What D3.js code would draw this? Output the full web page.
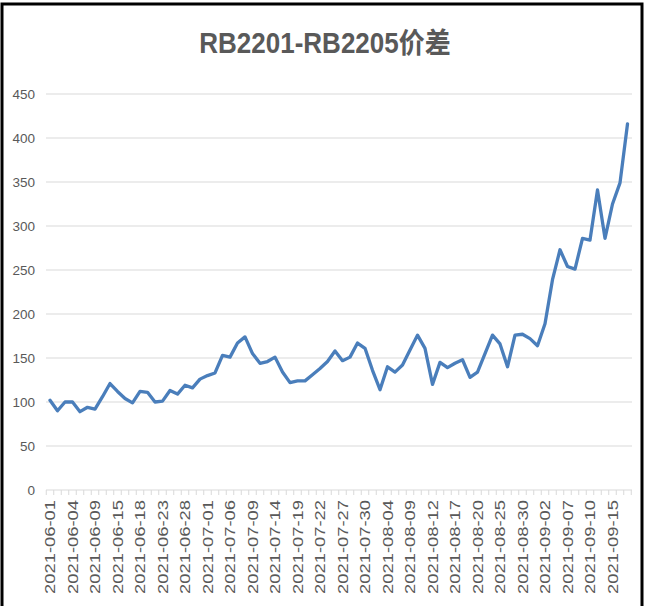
<!DOCTYPE html>
<html>
<head>
<meta charset="utf-8">
<script src="https://cdn.jsdelivr.net/npm/d3@7"></script>
<style>
  html, body { margin: 0; padding: 0; background: #fff; }
  svg { display: block; }
</style>
</head>
<body>
<svg id="chart" width="646" height="606"></svg>
<script>
// ---- data ----
const title = "RB2201-RB2205价差";
const dates = [
  "2021-06-01","2021-06-02","2021-06-03","2021-06-04","2021-06-07","2021-06-08","2021-06-09","2021-06-10","2021-06-11","2021-06-15",
  "2021-06-16","2021-06-17","2021-06-18","2021-06-21","2021-06-22","2021-06-23","2021-06-24","2021-06-25","2021-06-28","2021-06-29",
  "2021-06-30","2021-07-01","2021-07-02","2021-07-05","2021-07-06","2021-07-07","2021-07-08","2021-07-09","2021-07-12","2021-07-13",
  "2021-07-14","2021-07-15","2021-07-16","2021-07-19","2021-07-20","2021-07-21","2021-07-22","2021-07-23","2021-07-26","2021-07-27",
  "2021-07-28","2021-07-29","2021-07-30","2021-08-02","2021-08-03","2021-08-04","2021-08-05","2021-08-06","2021-08-09","2021-08-10",
  "2021-08-11","2021-08-12","2021-08-13","2021-08-16","2021-08-17","2021-08-18","2021-08-19","2021-08-20","2021-08-23","2021-08-24",
  "2021-08-25","2021-08-26","2021-08-27","2021-08-30","2021-08-31","2021-09-01","2021-09-02","2021-09-03","2021-09-06","2021-09-07",
  "2021-09-08","2021-09-09","2021-09-10","2021-09-13","2021-09-14","2021-09-15","2021-09-16","2021-09-17"
];
const spread = [
  102, 90, 100, 100, 89, 94, 92, 106, 121, 112,
  104, 99, 112, 111, 100, 101, 113, 109, 119, 116,
  126, 130, 133, 153, 151, 167, 174, 155, 144, 146,
  151, 134, 122, 124, 124, 131, 138, 146, 158, 147,
  151, 167, 161, 136, 114, 140, 134, 142, 159, 176,
  161, 120, 145, 139, 144, 148, 128, 134, 155, 176,
  166, 140, 176, 177, 172, 164, 189, 239, 273, 254,
  251, 286, 284, 341, 286, 325, 349, 416
];
const tickLabels = [
  "2021-06-01","2021-06-04","2021-06-09","2021-06-15","2021-06-18","2021-06-23","2021-06-28",
  "2021-07-01","2021-07-06","2021-07-09","2021-07-14","2021-07-19","2021-07-22","2021-07-27","2021-07-30",
  "2021-08-04","2021-08-09","2021-08-12","2021-08-17","2021-08-20","2021-08-25","2021-08-30",
  "2021-09-02","2021-09-07","2021-09-10","2021-09-15"
];
const yTicks = [0, 50, 100, 150, 200, 250, 300, 350, 400, 450];

// ---- drawing ----
const svg = d3.select("#chart");
const W = 646, H = 606;
svg.append("rect").attr("width", W).attr("height", H).attr("fill", "#fff");

const x = d3.scalePoint().domain(dates).range([46.25, 631.25]).padding(0.5);
const y = d3.scaleLinear().domain([0, 450]).range([490, 94]);
const step = x.step();

// gridlines
svg.append("g").selectAll("line").data(yTicks.filter(d => d > 0)).join("line")
  .attr("x1", 46).attr("x2", 632)
  .attr("y1", d => y(d)).attr("y2", d => y(d))
  .attr("stroke", "#d9d9d9").attr("stroke-width", 1);

// y axis labels
const yAxis = d3.axisLeft(y).tickValues(yTicks).tickSize(0).tickPadding(0);
const yg = svg.append("g").attr("transform", "translate(35,0)").call(yAxis);
yg.select(".domain").remove();
yg.selectAll("text")
  .attr("fill", "#595959")
  .attr("font-family", "Liberation Sans, Arial, sans-serif")
  .attr("font-size", 13.5);

// x axis line & tick marks at category boundaries
svg.append("line").attr("x1", 46).attr("x2", 632).attr("y1", y(0)).attr("y2", y(0))
  .attr("stroke", "#d9d9d9").attr("stroke-width", 1);
const boundaries = dates.map(d => x(d) - step / 2).concat([x(dates[dates.length - 1]) + step / 2]);
svg.append("g").selectAll("line").data(boundaries).join("line")
  .attr("x1", d => d).attr("x2", d => d)
  .attr("y1", y(0)).attr("y2", y(0) + 5)
  .attr("stroke", "#d9d9d9").attr("stroke-width", 1);

// x labels
svg.append("g").selectAll("text").data(tickLabels).join("text")
  .attr("transform", d => `translate(${x(d)},500) rotate(-90)`)
  .attr("text-anchor", "end")
  .attr("dy", "0.35em")
  .attr("font-family", "Liberation Sans, Arial, sans-serif")
  .attr("font-size", 15)
  .attr("textLength", 94)
  .attr("lengthAdjust", "spacingAndGlyphs")
  .attr("fill", "#595959")
  .text(d => d);

// line
const line = d3.line().x((d, i) => x(dates[i])).y(d => y(d));
svg.append("path").datum(spread)
  .attr("d", line)
  .attr("fill", "none")
  .attr("stroke", "#4a7ebb")
  .attr("stroke-width", 3.3)
  .attr("stroke-linejoin", "round")
  .attr("stroke-linecap", "round");

// title
svg.append("text")
  .attr("transform", "translate(325,53) scale(1,1.1)")
  .attr("text-anchor", "middle")
  .attr("font-family", "Liberation Sans, 'Noto Sans CJK SC', sans-serif")
  .attr("font-weight", "bold")
  .attr("font-size", 26)
  .attr("fill", "#595959")
  .text(title);

// frame
svg.append("path")
  .attr("d", "M2,612 V4 H642 V612")
  .attr("fill", "none")
  .attr("stroke", "#000")
  .attr("stroke-width", 3);
</script>
</body>
</html>
